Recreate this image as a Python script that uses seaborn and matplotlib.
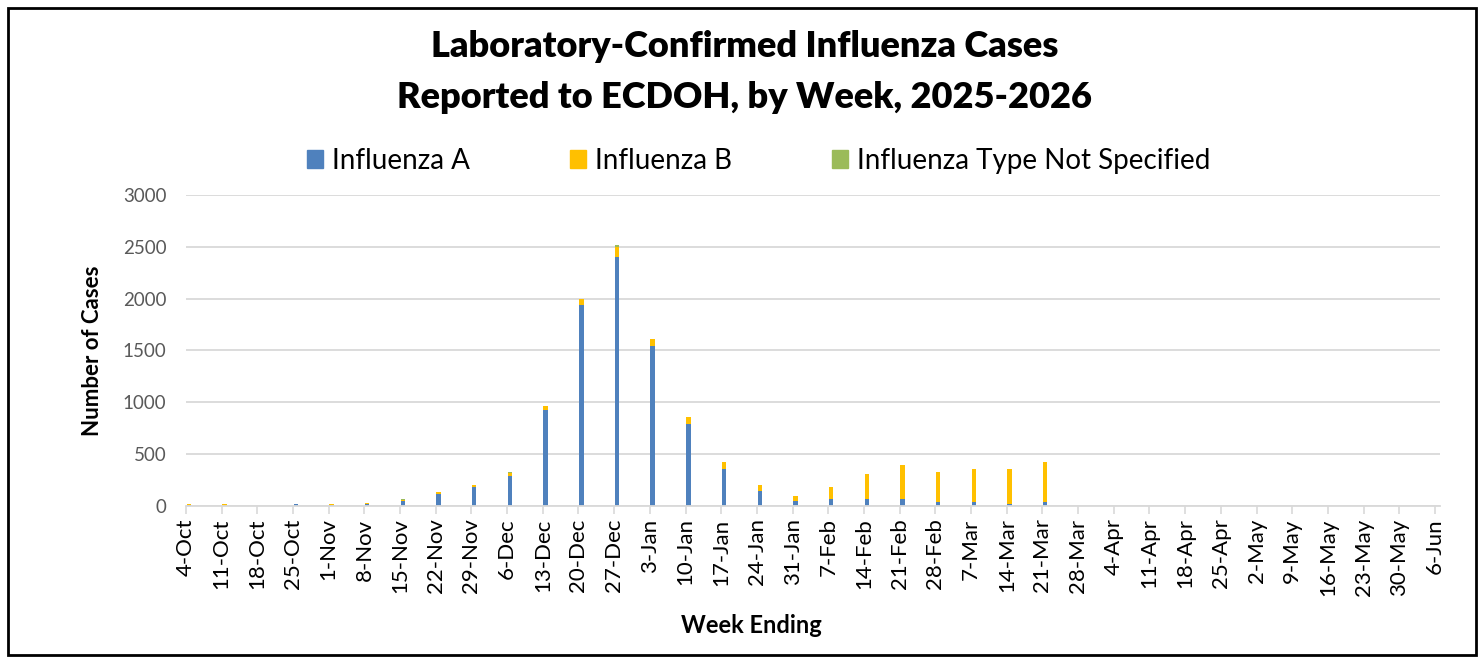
import numpy as np
import pandas as pd
import matplotlib
matplotlib.use("Agg")
import matplotlib.pyplot as plt
from matplotlib.patches import Patch, Rectangle
import seaborn as sns

# week-ending labels, 2025-2026 season
weeks = ["4-Oct", "11-Oct", "18-Oct", "25-Oct", "1-Nov", "8-Nov", "15-Nov", "22-Nov",
         "29-Nov", "6-Dec", "13-Dec", "20-Dec", "27-Dec", "3-Jan", "10-Jan", "17-Jan",
         "24-Jan", "31-Jan", "7-Feb", "14-Feb", "21-Feb", "28-Feb", "7-Mar", "14-Mar",
         "21-Mar", "28-Mar", "4-Apr", "11-Apr", "18-Apr", "25-Apr", "2-May", "9-May",
         "16-May", "23-May", "30-May", "6-Jun"]

flu_a = [5, 3, 2, 15, 5, 15, 46, 111, 180, 288, 930, 1942, 2404, 1544, 790, 355,
         148, 52, 65, 65, 65, 36, 36, 16, 36] + [0] * 11
flu_b = [15, 15, 2, 3, 15, 18, 15, 20, 20, 26, 35, 51, 96, 67, 65, 65,
         50, 48, 115, 245, 327, 294, 324, 344, 389] + [0] * 11
flu_ns = [0, 0, 0, 0, 0, 0, 5, 0, 0, 13, 0, 0, 16, 0, 0, 0,
          0, 0, 0, 0, 0, 0, 0, 0, 0] + [0] * 11

COL_A = "#4f81bd"
COL_B = "#ffc000"
COL_NS = "#9bbb59"

sns.set_style("white")
plt.rcParams["font.family"] = ["Lato", "DejaVu Sans"]
plt.rcParams["text.color"] = "black"
plt.rcParams["axes.labelcolor"] = "black"

# date axis: one unit = one day, bars sit just right of their week-ending date
df = pd.DataFrame({"week": weeks, "a": flu_a, "b": flu_b, "ns": flu_ns})
df["day"] = np.arange(len(df)) * 7
df["xpos"] = df["day"] + 0.55
df["ab"] = df["a"] + df["b"]
df["total"] = df["ab"] + df["ns"]

fig = plt.figure(figsize=(14.84, 6.61), dpi=100)
ax = fig.add_axes([0.1253, 0.2345, 0.8451, 0.4705])

# stacked look by layering cumulative totals
bw = 0.125
sns.barplot(data=df, x="xpos", y="total", native_scale=True, orient="x",
            color=COL_NS, saturation=1, width=bw, errorbar=None, linewidth=0, ax=ax)
sns.barplot(data=df, x="xpos", y="ab", native_scale=True, orient="x",
            color=COL_B, saturation=1, width=bw, errorbar=None, linewidth=0, ax=ax)
sns.barplot(data=df, x="xpos", y="a", native_scale=True, orient="x",
            color=COL_A, saturation=1, width=bw, errorbar=None, linewidth=0, ax=ax)

ax.set_xlim(0, 246)
ax.set_ylim(0, 3000)
ax.set_yticks(range(0, 3001, 500))
ax.set_xticks(df["day"])
ax.set_xticklabels(weeks, rotation=90, fontsize=16, color="black")
ax.tick_params(axis="x", length=6, width=1.2, color="#d9d9d9", pad=3, bottom=True)
ax.tick_params(axis="y", length=0, labelsize=13.5, labelcolor="#595959", pad=14)
ax.grid(axis="y", color="#d9d9d9", linewidth=1.3)
ax.set_axisbelow(True)
for s in ["left", "right", "top"]:
    ax.spines[s].set_visible(False)
ax.spines["bottom"].set_color("#d9d9d9")
ax.spines["bottom"].set_linewidth(1.3)

ax.set_xlabel("")
ax.set_ylabel("Number of Cases", fontsize=16, fontweight="bold", labelpad=14)
fig.text(0.506, 0.054, "Week Ending", ha="center", va="center",
         fontsize=17, fontweight="bold")

fig.text(0.502, 0.929, "Laboratory-Confirmed Influenza Cases", ha="center", va="center",
         fontsize=26, fontweight="heavy")
fig.text(0.502, 0.853, "Reported to ECDOH, by Week, 2025-2026", ha="center", va="center",
         fontsize=26, fontweight="heavy")

handles = [Patch(color=COL_A), Patch(color=COL_B), Patch(color=COL_NS)]
fig.legend(handles, ["Influenza A", "Influenza B", "Influenza Type Not Specified"],
           loc="center", bbox_to_anchor=(0.511, 0.757), ncol=3, frameon=False,
           fontsize=20, handlelength=0.6, handleheight=0.6, handletextpad=0.3,
           columnspacing=3.6)

fig.patches.append(Rectangle((0.0054, 0.009), 0.9892, 0.979, transform=fig.transFigure,
                             fill=False, edgecolor="black", linewidth=2))

fig.savefig("out.png", dpi=100)
